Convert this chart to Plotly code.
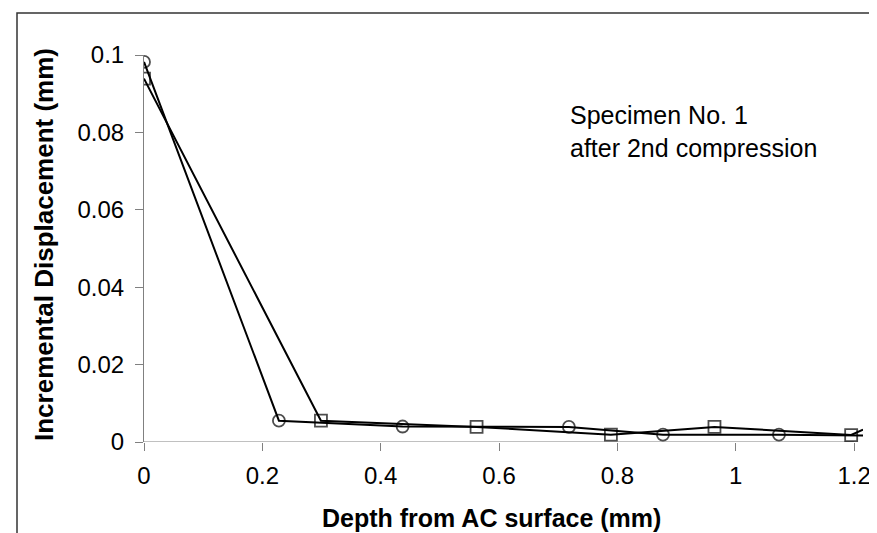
import plotly.graph_objects as go

# Data
circle_depth = [0.0, 0.228, 0.437, 0.718, 0.877, 1.073, 1.215]
circle_disp = [0.0982, 0.0055, 0.0040, 0.0039, 0.0019, 0.0019, 0.0017]
square_depth = [0.0, 0.299, 0.562, 0.789, 0.964, 1.195, 1.215]
square_disp = [0.0939, 0.0055, 0.0039, 0.0019, 0.0039, 0.0018, 0.0032]
circle_marker_sizes = [12, 12, 12, 12, 12, 12, 0]
square_marker_sizes = [12, 12, 12, 12, 12, 12, 0]

x_ticks = [0, 0.2, 0.4, 0.6, 0.8, 1.0, 1.2]
x_ticktext = ["0", "0.2", "0.4", "0.6", "0.8", "1", "1.2"]
y_ticks = [0, 0.02, 0.04, 0.06, 0.08, 0.1]
y_ticktext = ["0", "0.02", "0.04", "0.06", "0.08", "0.1"]

W, H = 877, 533
L, R, T, B = 136, 22, 47, 99
PW, PH = W - L - R, H - T - B

def px(xp):
    return (xp - L) / PW

def py(yp):
    return (H - B - yp) / PH

FONT = "Liberation Sans, Arial, sans-serif"

fig = go.Figure()
fig.add_trace(go.Scatter(
    x=circle_depth, y=circle_disp, mode="lines+markers",
    line=dict(color="black", width=2),
    marker=dict(symbol="circle-open", size=circle_marker_sizes, color="black",
                line=dict(width=1.8)),
    showlegend=False, hoverinfo="skip",
))
fig.add_trace(go.Scatter(
    x=square_depth, y=square_disp, mode="lines+markers",
    line=dict(color="black", width=2),
    marker=dict(symbol="square-open", size=square_marker_sizes, color="black",
                line=dict(width=1.8)),
    showlegend=False, hoverinfo="skip",
))

fig.update_layout(
    width=W, height=H,
    margin=dict(l=L, r=R, t=T, b=B, autoexpand=False),
    paper_bgcolor="white", plot_bgcolor="white",
    font=dict(family=FONT, size=24, color="black"),
    xaxis=dict(
        range=[0, 1.215], tickvals=x_ticks, ticktext=x_ticktext,
        showgrid=False, zeroline=False, showline=False,
        ticks="outside", ticklen=8, tickwidth=1, tickcolor="#808080",
        tickfont=dict(family=FONT, size=24, color="black"),
        ticklabelstandoff=4,
    ),
    yaxis=dict(
        range=[0, 0.1], tickvals=y_ticks, ticktext=y_ticktext,
        showgrid=False, zeroline=False, showline=True, linecolor="#808080", linewidth=1,
        ticks="outside", ticklen=8, tickwidth=1, tickcolor="#808080",
        tickfont=dict(family=FONT, size=24, color="black"),
        ticklabelstandoff=6,
    ),
    shapes=[
        dict(type="line", xref="x", yref="y", x0=x_ticks[0], x1=x_ticks[-1], y0=0, y1=0,
             line=dict(color="#808080", width=1), layer="below"),
        dict(type="rect", xref="paper", yref="paper",
             x0=px(9), x1=px(876), y0=py(560), y1=py(5),
             line=dict(color="#333333", width=1.5), fillcolor="rgba(0,0,0,0)", layer="below"),
    ],
    annotations=[
        dict(text="<b>Depth from AC surface (mm)</b>", xref="paper", yref="paper",
             x=px(483), y=py(510), showarrow=False, xanchor="center", yanchor="middle",
             font=dict(family=FONT, size=25, color="black")),
        dict(text="<b>Incremental Displacement (mm)</b>", xref="paper", yref="paper",
             x=px(36), y=py(237), showarrow=False, xanchor="center", yanchor="middle",
             textangle=-90, font=dict(family=FONT, size=26, color="black")),
        dict(text="Specimen No. 1<br>after 2nd compression", xref="paper", yref="paper",
             x=px(560), y=py(124), showarrow=False, xanchor="left", yanchor="middle",
             align="left", font=dict(family=FONT, size=25, color="black")),
    ],
)

fig.write_html("out.html")
